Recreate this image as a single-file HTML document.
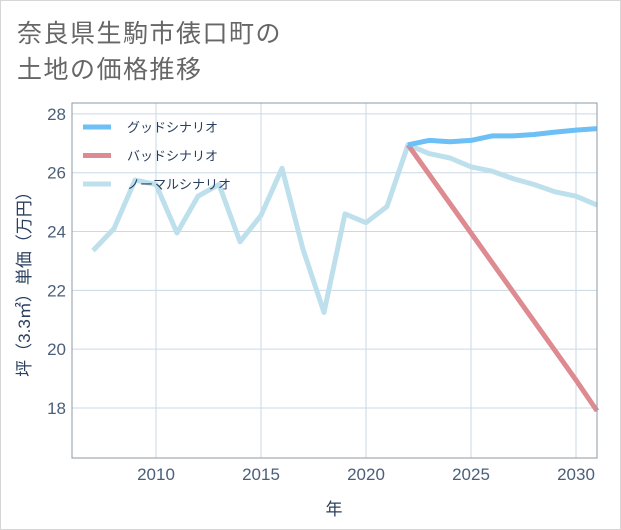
<!DOCTYPE html>
<html><head><meta charset="utf-8"><style>
html,body{margin:0;padding:0;background:#fff;}
svg{display:block;font-family:"Liberation Sans","Noto Sans CJK JP",sans-serif;}
</style></head><body>
<svg id="chart" width="621" height="530" viewBox="0 0 621 530" xmlns="http://www.w3.org/2000/svg">
<rect x="0.5" y="0.5" width="620" height="529" fill="#fff" stroke="#d6d6d6"/>
<text x="17" y="42" font-size="25" letter-spacing="1.5" fill="#666">奈良県生駒市俵口町の</text>
<text x="17" y="78" font-size="25" letter-spacing="1.5" fill="#666">土地の価格推移</text>
<g id="grid"></g>
<g id="series"></g>
<g id="axes"></g>
<g id="legend"></g>
<text x="334" y="515" font-size="17" fill="#2a3f5f" text-anchor="middle">年</text>
<text transform="translate(30,280) rotate(-90)" font-size="17" fill="#2a3f5f" text-anchor="middle">坪（3.3㎡）単価（万円）</text>
</svg>
<script>
const years = [2007,2008,2009,2010,2011,2012,2013,2014,2015,2016,2017,2018,2019,2020,2021,2022,2023,2024,2025,2026,2027,2028,2029,2030,2031];
const normalValues = [23.35,24.1,25.75,25.6,23.95,25.2,25.6,23.65,24.55,26.15,23.4,21.25,24.6,24.3,24.85,26.95,26.65,26.5,26.2,26.05,25.8,25.6,25.35,25.2,24.9];
const futureYears = [2022,2023,2024,2025,2026,2027,2028,2029,2030,2031];
const goodValues = [26.95,27.1,27.05,27.1,27.25,27.25,27.3,27.38,27.45,27.5];
const badValues = [26.95,25.95,24.95,23.95,22.95,21.95,20.95,19.95,18.95,17.9];
const xTicks = [2010,2015,2020,2025,2030];
const yTicks = [18,20,22,24,26,28];
const seriesNames = ["グッドシナリオ","バッドシナリオ","ノーマルシナリオ"];
const seriesColors = ["#6cc0f5","#de8a91","#bde0ec"];

const L=72,R=597,T=103,B=458;
const X0=2006,X1=2031,Y0=16.3,Y1=28.37;
const xs=v=>L+(v-X0)/(X1-X0)*(R-L);
const ys=v=>B-(v-Y0)/(Y1-Y0)*(B-T);
const NS="http://www.w3.org/2000/svg";
function mk(tag,parent,attrs){const e=document.createElementNS(NS,tag);for(const k in attrs)e.setAttribute(k,attrs[k]);parent.appendChild(e);return e;}
const grid=document.getElementById('grid'),ser=document.getElementById('series'),ax=document.getElementById('axes'),leg=document.getElementById('legend');
xTicks.forEach(t=>{
  const l=mk('line',grid,{x1:xs(t),x2:xs(t),y1:T,y2:B,stroke:"#c9d9e6","stroke-width":1});
  
  
  const tx=mk('text',ax,{x:xs(t),y:B+22,"font-size":17,fill:"#4a5f7a","text-anchor":"middle"});
  tx.textContent=t;
  
  
});
yTicks.forEach(t=>{
  const l=mk('line',grid,{x1:L,x2:R,y1:ys(t),y2:ys(t),stroke:"#c9d9e6","stroke-width":1});
  
  
  const tx=mk('text',ax,{x:L-6,y:ys(t)+6,"font-size":17,fill:"#4a5f7a","text-anchor":"end"});
  tx.textContent=t;
  
  
});
const frame=mk('rect',ax,{x:L,y:T,width:R-L,height:B-T,fill:"none",stroke:"#8d99a5","stroke-width":1});


function line(xv,yv,color,name){
  const d=xv.map((x,i)=>(i?'L':'M')+xs(x).toFixed(1)+','+ys(yv[i]).toFixed(1)).join(' ');
  const p=mk('path',ser,{d:d,fill:"none",stroke:color,"stroke-width":5,"stroke-linejoin":"round"});
  
  
}
line(years,normalValues,seriesColors[2],'normal-scenario-line');
line(futureYears,badValues,seriesColors[1],'bad-scenario-line');
line(futureYears,goodValues,seriesColors[0],'good-scenario-line');
seriesNames.forEach((n,i)=>{
  const y=127+i*28.5;
  const s=mk('line',leg,{x1:83,x2:111,y1:y,y2:y,stroke:seriesColors[i],"stroke-width":5});
  
  
  const t=mk('text',leg,{x:127,y:y+5,"font-size":13,fill:"#2a3f5f"});
  t.textContent=n;
  
  
});
</script>
</body></html>
